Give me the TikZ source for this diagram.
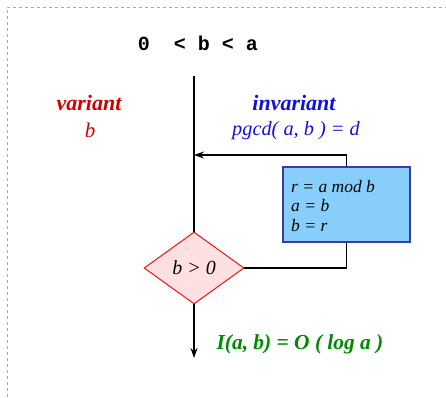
\documentclass[tikz,border=0pt]{standalone}
\usepackage{fontspec}
\setmainfont{Liberation Serif}
\setmonofont{Liberation Mono}
\usetikzlibrary{shapes.geometric,arrows.meta}
\definecolor{boxfill}{HTML}{87CEFA}
\definecolor{boxdraw}{HTML}{3A3AAA}
\definecolor{diafill}{HTML}{FFE0E0}
\definecolor{varred}{HTML}{D00000}
\definecolor{invblue}{HTML}{1010E0}
\definecolor{cgreen}{HTML}{008A00}
\tikzset{
  flow/.style={line width=1.8pt, black},
  flowarrow/.style={flow, -{Stealth[length=10pt,width=7pt]}},
  testbox/.style={diamond, draw=red, line width=0.9pt, fill=diafill, minimum width=100pt, minimum height=72pt, aspect=1.39, inner sep=0pt, font=\fontsize{20}{22}\selectfont\itshape},
  bodybox/.style={rectangle, draw=boxdraw, line width=1.2pt, fill=boxfill, minimum width=127pt, minimum height=75pt, inner sep=0pt},
  lbl/.style={inner sep=0pt, anchor=base}
}
\begin{document}
\begin{tikzpicture}[x=1pt,y=-1pt]
\useasboundingbox (0,0) rectangle (446,397);
\draw[gray!70, dashed, line width=0.5pt] (7,397) -- (7,7) -- (446,7);
\node[lbl, font=\fontsize{20}{22}\selectfont\ttfamily\bfseries] (cond) at (198,50) {0\ \ <\ b\ <\ a};
\node[lbl, text=varred, font=\fontsize{22}{24}\selectfont\bfseries\itshape] (var) at (89,110) {variant};
\node[lbl, text=varred, font=\fontsize{21}{22}\selectfont\itshape] (varb) at (90,137) {b};
\node[lbl, text=invblue, font=\fontsize{22}{24}\selectfont\bfseries\itshape] (inv) at (294,110) {invariant};
\node[lbl, text=invblue, font=\fontsize{20.3}{22}\selectfont\itshape] (invf) at (296,135) {pgcd( a, b ) = d};
\node[lbl, text=cgreen, font=\fontsize{21.4}{24}\selectfont\bfseries\itshape] (cplx) at (300,349) {I(a, b) = O ( log a )};
\coordinate (start) at (194,76);
\coordinate (join) at (194,155);
\coordinate (stop) at (194,358);
\node[testbox] (test) at (194,268) {b > 0};
\node[bodybox] (body) at (346.5,204.5) {};
\node[anchor=north west, inner sep=0pt, align=left, font=\fontsize{17.5}{19.5}\selectfont\itshape] (bodytext) at (291,180) {r = a mod b\\a = b\\b = r};
\draw[flow] (start) -- (test.north);
\draw[flowarrow] (test.south) -- (stop);
\draw[flowarrow] (body.north) |- (join);
\draw[flow] (body.south) |- (test.east);
\end{tikzpicture}
\end{document}
